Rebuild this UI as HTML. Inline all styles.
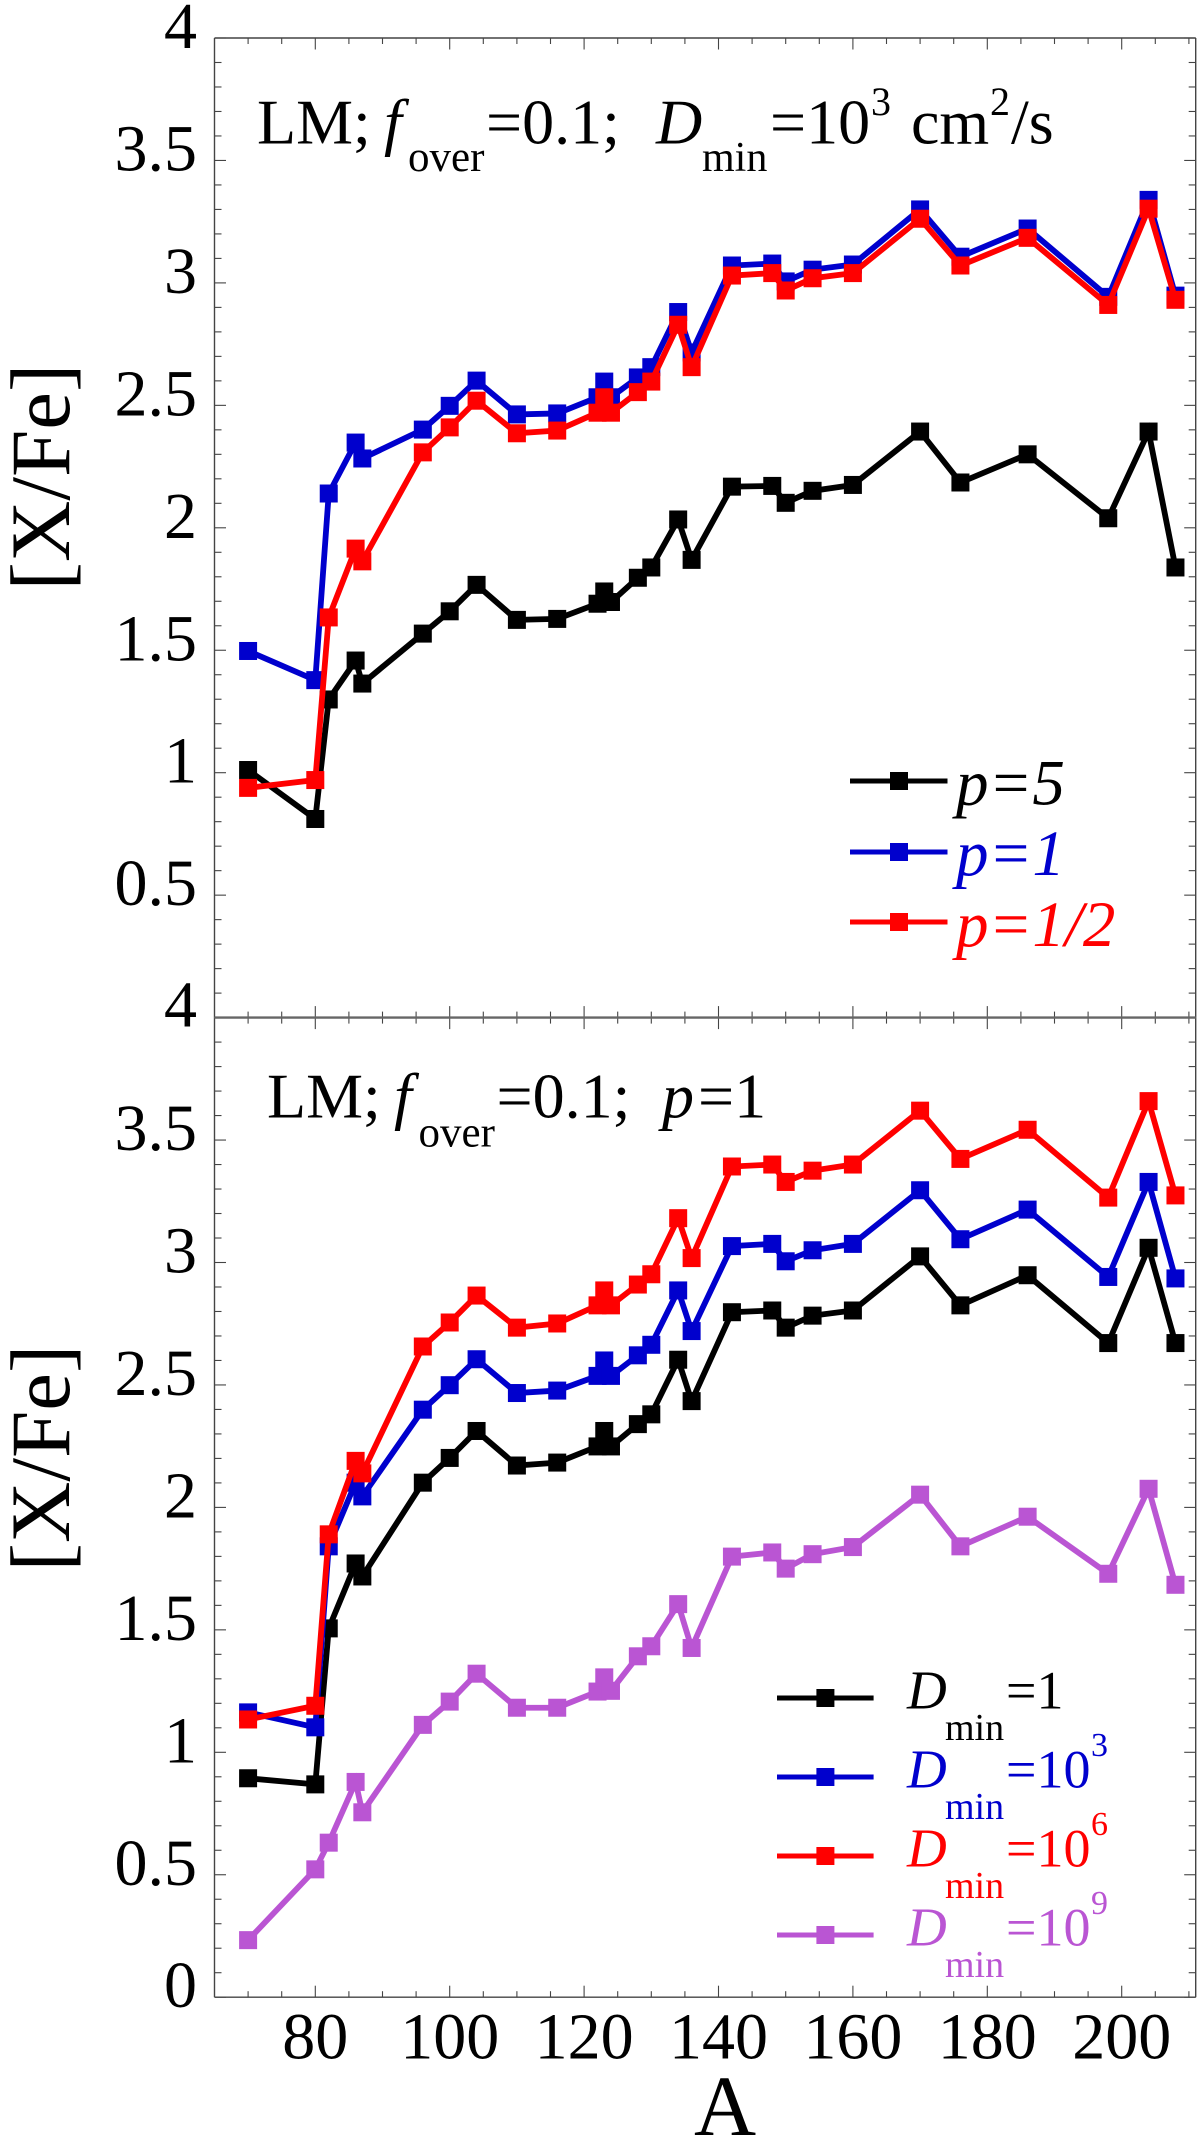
<!DOCTYPE html>
<html>
<head>
<meta charset="utf-8">
<title>[X/Fe] vs A</title>
<style>
html,body{margin:0;padding:0;background:#fff;width:1200px;height:2140px;overflow:hidden}
svg{display:block}
text{font-family:"Liberation Serif",serif;fill:#000}
.it{font-style:italic}
</style>
</head>
<body>
<svg id="chart" xmlns="http://www.w3.org/2000/svg" width="1200" height="2140" viewBox="0 0 1200 2140">
  <g id="marks"></g>

  <g font-size="64">
    <text x="257" y="143.6">LM;</text>
    <text x="384" y="143.6" class="it">f</text>
    <text x="408" y="171" font-size="43">over</text>
    <text x="486" y="143.6">=0.1;</text>
    <text x="656" y="143.6" class="it">D</text>
    <text x="702" y="171" font-size="42">min</text>
    <text x="770" y="143.6">=10</text>
    <text x="871" y="115" font-size="40">3</text>
    <text x="911" y="143.6">cm</text>
    <text x="990" y="115" font-size="40">2</text>
    <text x="1011" y="143.6">/s</text>
  </g>

  <g font-size="64">
    <text x="267" y="1117.5">LM;</text>
    <text x="394" y="1117.5" class="it">f</text>
    <text x="418.5" y="1146.7" font-size="43">over</text>
    <text x="496.5" y="1117.5">=0.1;</text>
    <text x="662" y="1117.5" class="it">p</text>
    <text x="698" y="1117.5">=1</text>
  </g>

  <g font-size="65" class="it">
    <text x="956" y="804.5" class="it">p=5</text>
    <text x="956" y="875" class="it" style="fill:#0000cd">p=1</text>
    <text x="956" y="946" class="it" style="fill:#ff0000">p=1/2</text>
  </g>

  <g font-size="55">
    <g>
      <text x="907" y="1708.6" class="it">D</text>
      <text x="945" y="1740" font-size="38">min</text>
      <text x="1006" y="1708.6" font-size="54">=1</text>
    </g>
    <g>
      <text x="907" y="1787.6" class="it" style="fill:#0000cd">D</text>
      <text x="945" y="1819" font-size="38" style="fill:#0000cd">min</text>
      <text x="1006" y="1787.6" font-size="54" style="fill:#0000cd">=10</text>
      <text x="1091" y="1756" font-size="34" style="fill:#0000cd">3</text>
    </g>
    <g>
      <text x="907" y="1866.6" class="it" style="fill:#ff0000">D</text>
      <text x="945" y="1898" font-size="38" style="fill:#ff0000">min</text>
      <text x="1006" y="1866.6" font-size="54" style="fill:#ff0000">=10</text>
      <text x="1091" y="1835" font-size="34" style="fill:#ff0000">6</text>
    </g>
    <g>
      <text x="907" y="1945.6" class="it" style="fill:#ba55d3">D</text>
      <text x="945" y="1977" font-size="38" style="fill:#ba55d3">min</text>
      <text x="1006" y="1945.6" font-size="54" style="fill:#ba55d3">=10</text>
      <text x="1091" y="1914" font-size="34" style="fill:#ba55d3">9</text>
    </g>
  </g>

  <text font-size="85" text-anchor="middle" transform="translate(69,477) rotate(-90)">[X/Fe]</text>
  <text font-size="85" text-anchor="middle" transform="translate(69,1458) rotate(-90)">[X/Fe]</text>
  <text font-size="86" text-anchor="middle" x="725" y="2135">A</text>
</svg>

<script>
var massNumbers = [70,80,82,86,87,96,100,104,110,116,122,123,124,128,130,134,136,142,148,150,154,160,170,176,186,198,204,208];

var topP5 = [1.011,0.811,1.299,1.458,1.364,1.568,1.659,1.767,1.624,1.628,1.69,1.74,1.697,1.796,1.838,2.034,1.869,2.168,2.171,2.102,2.151,2.175,2.393,2.185,2.30,2.039,2.393,1.838];
var topP1 = [1.497,1.378,2.140,2.348,2.283,2.401,2.498,2.601,2.463,2.467,2.533,2.597,2.533,2.614,2.656,2.881,2.716,3.071,3.079,3.006,3.054,3.075,3.30,3.107,3.222,2.943,3.339,2.948];
var topPHalf = [0.938,0.970,1.634,1.915,1.863,2.308,2.41,2.519,2.386,2.397,2.47,2.533,2.47,2.554,2.597,2.829,2.656,3.03,3.04,2.969,3.019,3.04,3.262,3.071,3.184,2.91,3.303,2.931];

var bottomD1 = [0.894,0.869,1.506,1.771,1.718,2.101,2.202,2.312,2.171,2.183,2.249,2.312,2.249,2.34,2.38,2.603,2.434,2.797,2.804,2.734,2.783,2.804,3.025,2.825,2.948,2.671,3.06,2.671];
var bottomD3 = [1.163,1.102,1.841,2.101,2.045,2.399,2.499,2.605,2.467,2.477,2.537,2.60,2.537,2.621,2.664,2.886,2.72,3.067,3.076,3.005,3.05,3.076,3.295,3.095,3.216,2.941,3.329,2.935];
var bottomD6 = [1.134,1.19,1.890,2.190,2.139,2.657,2.755,2.865,2.734,2.751,2.825,2.886,2.825,2.91,2.952,3.181,3.018,3.392,3.40,3.329,3.375,3.40,3.62,3.423,3.542,3.265,3.659,3.274];
var bottomD9 = [0.233,0.522,0.631,0.879,0.755,1.112,1.207,1.321,1.182,1.182,1.248,1.306,1.251,1.392,1.433,1.605,1.426,1.799,1.816,1.75,1.809,1.838,2.052,1.841,1.962,1.729,2.076,1.684];

var yTickLabelsTop = ["4","3.5","3","2.5","2","1.5","1","0.5"];
var yTickLabelsBottom = ["4","3.5","3","2.5","2","1.5","1","0.5","0"];
var xTickLabels = ["80","100","120","140","160","180","200"];

var NS = 'http://www.w3.org/2000/svg';
var marks = document.getElementById('marks');
var chart = document.getElementById('chart');
var PX_PER_A = 6.72, PX_PER_DEX = 244.9;
var LEFT = 214.5, RIGHT = 1195.7;

function xAxis(a){ return 315.3 + (a - 80) * PX_PER_A; }
function yAxisTop(v){ return 1017.6 - v * PX_PER_DEX; }
function yAxisBottom(v){ return 1997.2 - v * PX_PER_DEX; }

function line(parent, x1, y1, x2, y2, w, c){
  var el = document.createElementNS(NS, 'line');
  el.setAttribute('x1', x1);
  el.setAttribute('y1', y1);
  el.setAttribute('x2', x2);
  el.setAttribute('y2', y2);
  el.setAttribute('stroke', c);
  el.setAttribute('stroke-width', w);
  parent.appendChild(el);
  return el;
}

function drawFrame(yFn, name){
  var g = document.createElementNS(NS, 'g');
  
  
  var col = '#444';
  var y0 = yFn(0), y4 = yFn(4);
  line(g, LEFT, y4, RIGHT, y4, 1.4, col);
  line(g, LEFT, y0, RIGHT, y0, 1.4, col);
  line(g, LEFT, y4, LEFT, y0, 1.4, col);
  line(g, RIGHT, y4, RIGHT, y0, 1.4, col);
  for (var i = 0; i <= 40; i++) {
    var y = yFn(i / 10);
    var len = (i % 5 === 0) ? 11.5 : 7;
    line(g, LEFT, y, LEFT + len, y, 1.1, col);
    line(g, RIGHT, y, RIGHT - len, y, 1.1, col);
  }
  for (var a = 70; a <= 210; a += 5) {
    var x = xAxis(a);
    var l2 = (a % 20 === 0) ? 11.5 : 6;
    line(g, x, y4, x, y4 + l2, 1.1, col);
    line(g, x, y0, x, y0 - l2, 1.1, col);
  }
  marks.appendChild(g);
}

function drawSeries(values, yFn, color, name){
  var g = document.createElementNS(NS, 'g');
  
  
  var pts = [];
  for (var i = 0; i < values.length; i++) {
    pts.push(xAxis(massNumbers[i]).toFixed(2) + ',' + yFn(values[i]).toFixed(2));
  }
  var pl = document.createElementNS(NS, 'polyline');
  
  
  pl.setAttribute('points', pts.join(' '));
  pl.setAttribute('fill', 'none');
  pl.setAttribute('stroke', color);
  pl.setAttribute('stroke-width', '5.8');
  pl.setAttribute('stroke-linejoin', 'miter');
  g.appendChild(pl);
  for (var j = 0; j < values.length; j++) {
    var r = document.createElementNS(NS, 'rect');
    
    
    r.setAttribute('x', (xAxis(massNumbers[j]) - 9).toFixed(2));
    r.setAttribute('y', (yFn(values[j]) - 9).toFixed(2));
    r.setAttribute('width', '18');
    r.setAttribute('height', '18');
    r.setAttribute('fill', color);
    g.appendChild(r);
  }
  marks.appendChild(g);
}

function drawLegendKey(x1, x2, xm, y, color, name){
  var g = document.createElementNS(NS, 'g');
  
  
  line(g, x1, y, x2, y, 5, color);
  var r = document.createElementNS(NS, 'rect');
  r.setAttribute('x', xm - 9);
  r.setAttribute('y', y - 9);
  r.setAttribute('width', 18);
  r.setAttribute('height', 18);
  r.setAttribute('fill', color);
  g.appendChild(r);
  marks.appendChild(g);
}

function tickText(str, x, y, anchor, name){
  var t = document.createElementNS(NS, 'text');
  
  
  t.setAttribute('x', x);
  t.setAttribute('y', y);
  t.setAttribute('font-size', '66');
  t.setAttribute('text-anchor', anchor);
  t.textContent = str;
  chart.appendChild(t);
}

drawFrame(yAxisTop, 'top-panel');
drawFrame(yAxisBottom, 'bottom-panel');
var divider = line(marks, LEFT, yAxisTop(0), RIGHT, yAxisTop(0), 2.4, '#666');



drawSeries(topP5, yAxisTop, '#000000', 'series-p5');
drawSeries(topP1, yAxisTop, '#0000cd', 'series-p1');
drawSeries(topPHalf, yAxisTop, '#ff0000', 'series-p1-2');

drawSeries(bottomD1, yAxisBottom, '#000000', 'series-dmin-1');
drawSeries(bottomD3, yAxisBottom, '#0000cd', 'series-dmin-1e3');
drawSeries(bottomD6, yAxisBottom, '#ff0000', 'series-dmin-1e6');
drawSeries(bottomD9, yAxisBottom, '#ba55d3', 'series-dmin-1e9');

drawLegendKey(850, 947.5, 899, 781, '#000000', 'legend-key-p5');
drawLegendKey(850, 947.5, 899, 852, '#0000cd', 'legend-key-p1');
drawLegendKey(850, 947.5, 899, 922, '#ff0000', 'legend-key-p1-2');
drawLegendKey(777, 873.6, 825.4, 1698, '#000000', 'legend-key-dmin-1');
drawLegendKey(777, 873.6, 825.4, 1777, '#0000cd', 'legend-key-dmin-1e3');
drawLegendKey(777, 873.6, 825.4, 1856, '#ff0000', 'legend-key-dmin-1e6');
drawLegendKey(777, 873.6, 825.4, 1935, '#ba55d3', 'legend-key-dmin-1e9');

yTickLabelsTop.forEach(function(s){
  tickText(s, 197, yAxisTop(parseFloat(s)) + 10, 'end', 'y-tick-label-top');
});
tickText("4", 197, yAxisTop(0) + 9, 'end', 'y-tick-label-divider');
yTickLabelsBottom.forEach(function(s){
  if (s === "4") return;
  tickText(s, 197, yAxisBottom(parseFloat(s)) + 10, 'end', 'y-tick-label-bottom');
});
xTickLabels.forEach(function(s){
  tickText(s, xAxis(parseFloat(s)), 2058.6, 'middle', 'x-tick-label');
});
</script>
</body>
</html>
